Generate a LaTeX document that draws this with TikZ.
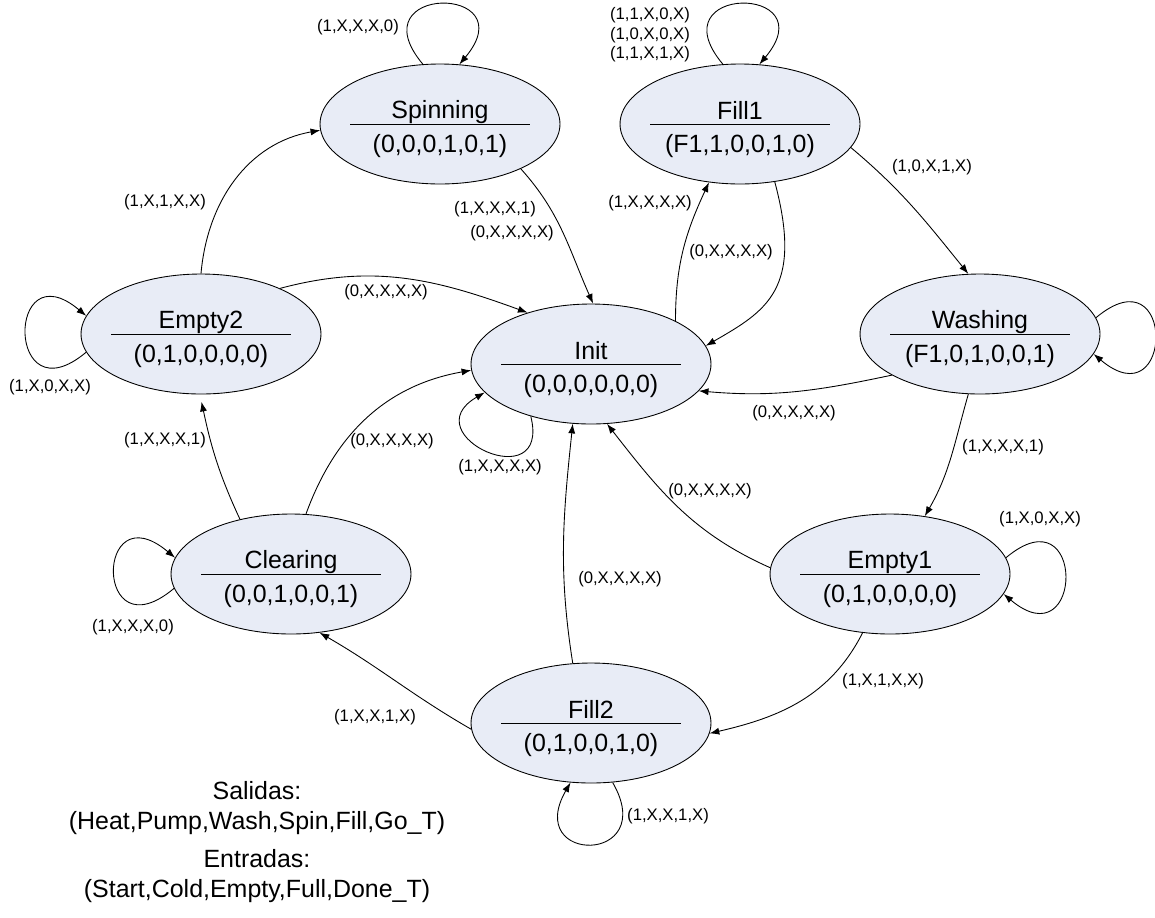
\documentclass[tikz,border=0pt]{standalone}
\usepackage{fontspec}
\setmainfont{Liberation Sans}
\usetikzlibrary{shapes.geometric,arrows.meta}
\definecolor{stfill}{RGB}{232,236,246}
\newcommand{\stlines}[2]{{\renewcommand{\arraystretch}{0}%
  \begin{tabular}{@{}c@{}}\rule[-2.8pt]{0pt}{21.4pt}#1\\
  \rule[-5pt]{0pt}{21.4pt}#2\end{tabular}}}
\begin{document}
\begin{tikzpicture}[x=0.02cm, y=0.02cm, line width=0.5pt,
    >={Latex[length=5.5pt,width=4pt]},
    state/.style={ellipse, draw, fill=stfill, minimum width=4.8cm, minimum height=2.4cm,
        inner sep=0pt, font=\fontsize{14.2}{17}\selectfont,
        path picture={\draw (path picture bounding box.center) ++(-1.8cm,0) -- ++(3.6cm,0);}},
    lbl/.style={font=\fontsize{9.5}{11}\selectfont, inner sep=0pt, align=center},
    note/.style={font=\fontsize{14.2}{17}\selectfont, align=center},
    selfloop/.style={distance=2.1cm}]
    \useasboundingbox (0,0) rectangle (1155,-917);
    \node [state] (spin) at (440,-124) {\stlines{Spinning}{(0,0,0,1,0,1)}};
    \node [state] (fill1) at (740,-124) {\stlines{Fill1}{(F1,1,0,0,1,0)}};
    \node [state] (wash) at (980,-334) {\stlines{Washing}{(F1,0,1,0,0,1)}};
    \node [state] (init) at (591,-364) {\stlines{Init}{(0,0,0,0,0,0)}};
    \node [state] (empty2) at (201,-334) {\stlines{Empty2}{(0,1,0,0,0,0)}};
    \node [state] (clear) at (291,-574) {\stlines{Clearing}{(0,0,1,0,0,1)}};
    \node [state] (empty1) at (890,-574) {\stlines{Empty1}{(0,1,0,0,0,0)}};
    \node [state] (fill2) at (591,-723) {\stlines{Fill2}{(0,1,0,0,1,0)}};

    \draw [->, selfloop] (spin.106) to[out=130, in=50] (spin.72);
    \draw [->, selfloop] (fill1.106) to[out=130, in=50] (fill1.72);
    \draw [->, selfloop] (wash.8) to[out=40, in=-40] (wash.-10);
    \draw [->, selfloop] (empty1.8) to[out=40, in=-40] (empty1.-10);
    \draw [->, selfloop] (empty2.189) to[out=220, in=140] (empty2.171);
    \draw [->, selfloop] (clear.187) to[out=220, in=140] (clear.172);
    \draw [->, distance=1.9cm] (fill2.-70) to[out=-60, in=-120] (fill2.-109);
    \draw [->, distance=1.7cm] (init.221) to[out=-76, in=210] (init.195);

    \draw [->] (spin.-29) to[out=-48, in=114] (init.88);
    \draw [->] (init.27) to[out=90, in=-115] (fill1.-118);
    \draw [->] (fill1.-59) to[out=-75, in=30, out looseness=1.6] (init.9);
    \draw [->] (fill1.-12) to[out=-40, in=129] (wash.101);
    \draw [->] (wash.-155) to[out=192, in=-5] (init.-14);
    \draw [->] (wash.-101) to[out=-106, in=60] (empty1.59);
    \draw [->] (empty1.177) to[out=156, in=-52] (init.-75);
    \draw [->] (empty1.-115) to[out=-117, in=13] (fill2.-5);
    \draw [->] (fill2.107) to[out=99, in=-96] (init.-107);
    \draw [->] (fill2.183) to[out=150, in=-30] (clear.-64);
    \draw [->] (clear.76) to[out=70, in=190] (init.183);
    \draw [->, shorten >=1.5mm] (clear.133) to[out=115, in=-78] (empty2.-91);
    \draw [->] (empty2.90) to[out=85, in=190] (spin.183);
    \draw [->] (empty2.30) to[out=15, in=160] (init.141);

    \node [lbl] (lspin) at (358,-27) {(1,X,X,X,0)};
    \node [lbl] (lfill1) at (650,-35) {(1,1,X,0,X)\\(1,0,X,0,X)\\(1,1,X,1,X)};
    \node [lbl] (lspininit) at (495,-209) {(1,X,X,X,1)};
    \node [lbl] (lspininitb) at (512,-233) {(0,X,X,X,X)};
    \node [lbl] (linitfill1) at (650,-203) {(1,X,X,X,X)};
    \node [lbl] (lfill1init) at (731,-252) {(0,X,X,X,X)};
    \node [lbl] (lfill1wash) at (932,-167) {(1,0,X,1,X)};
    \node [lbl] (lwashinit) at (794,-413) {(0,X,X,X,X)};
    \node [lbl] (lwashempty1) at (1003,-447) {(1,X,X,X,1)};
    \node [lbl] (lempty1) at (1040,-519) {(1,X,0,X,X)};
    \node [lbl] (lempty1init) at (710,-491) {(0,X,X,X,X)};
    \node [lbl] (lempty1fill2) at (883,-681) {(1,X,1,X,X)};
    \node [lbl] (lfill2) at (668,-816) {(1,X,X,1,X)};
    \node [lbl] (lfill2init) at (620,-579) {(0,X,X,X,X)};
    \node [lbl] (lfill2clear) at (375,-717) {(1,X,X,1,X)};
    \node [lbl] (lclear) at (133,-627) {(1,X,X,X,0)};
    \node [lbl] (lclearinit) at (392,-441) {(0,X,X,X,X)};
    \node [lbl] (lclearempty2) at (165,-440) {(1,X,X,X,1)};
    \node [lbl] (lempty2) at (50,-387) {(1,X,0,X,X)};
    \node [lbl] (lempty2spin) at (165,-202) {(1,X,1,X,X)};
    \node [lbl] (lempty2init) at (386,-292) {(0,X,X,X,X)};
    \node [lbl] (linit) at (500,-467) {(1,X,X,X,X)};

    \node [note] (outs) at (257,-808) {Salidas:\\(Heat,Pump,Wash,Spin,Fill,Go\_T)};
    \node [note] (ins) at (257,-876) {Entradas:\\(Start,Cold,Empty,Full,Done\_T)};
\end{tikzpicture}
\end{document}
